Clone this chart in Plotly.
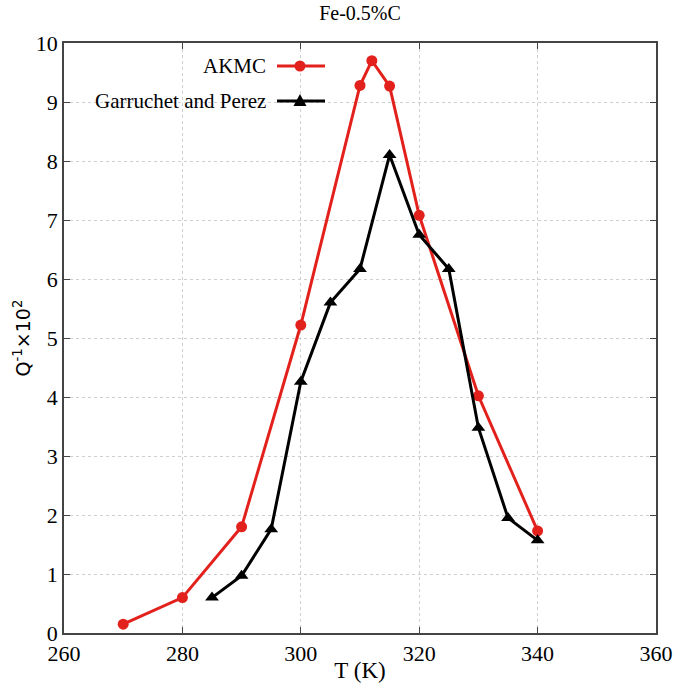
import plotly.graph_objects as go

akmc_T = [270, 280, 290, 300, 310, 312, 315, 320, 330, 340]
akmc_Q = [0.15, 0.60, 1.80, 5.22, 9.28, 9.70, 9.27, 7.08, 4.02, 1.73]

gp_T = [285, 290, 295, 300, 305, 310, 315, 320, 325, 330, 335, 340]
gp_Q = [0.60, 0.97, 1.76, 4.26, 5.60, 6.17, 8.10, 6.75, 6.17, 3.48, 1.95, 1.57]

x_ticks = [260, 280, 300, 320, 340, 360]
y_ticks = [0, 1, 2, 3, 4, 5, 6, 7, 8, 9, 10]

series_names = ["AKMC", "Garruchet and Perez"]

RED = "#e3211c"
BLACK = "#000000"
SERIF = "Liberation Serif, Times New Roman, serif"

fig = go.Figure()
fig.add_trace(go.Scatter(x=akmc_T, y=akmc_Q, mode="lines+markers", name=series_names[0],
                         line=dict(color=RED, width=3),
                         marker=dict(symbol="circle", size=11, color=RED),
                         cliponaxis=False))
fig.add_trace(go.Scatter(x=gp_T, y=gp_Q, mode="lines+markers", name=series_names[1],
                         line=dict(color=BLACK, width=3),
                         marker=dict(symbol="triangle-up", size=12, color=BLACK),
                         cliponaxis=False))

axis_common = dict(showline=True, linecolor="#444444", linewidth=1.6, mirror="ticks",
                   ticks="inside", ticklen=6, tickcolor="#444444", tickwidth=1,
                   showgrid=True, gridcolor="#cfcfcf", griddash="dot", gridwidth=1,
                   zeroline=False, automargin=False,
                   tickfont=dict(family=SERIF, size=22, color="#000"))

fig.update_layout(
    width=678, height=683,
    margin=dict(l=64, r=22, t=43, b=50),
    paper_bgcolor="white", plot_bgcolor="white",
    showlegend=False,
    font=dict(family=SERIF, color="#000"),
    title=dict(text="Fe-0.5%C", xref="paper", x=0.5, xanchor="center",
               yref="container", y=1 - 13 / 683, yanchor="middle",
               font=dict(family=SERIF, size=20, color="#000")),
    xaxis=dict(range=[260, 360], tickvals=x_ticks, ticktext=[str(v) for v in x_ticks],
               title=dict(text="T (K)", font=dict(family=SERIF, size=23, color="#000"), standoff=2),
               **axis_common),
    yaxis=dict(range=[0, 10], tickvals=y_ticks, ticktext=[str(v) for v in y_ticks],
               title=dict(text="Q<sup>-1</sup>×10<sup>2</sup>",
                          font=dict(family="DejaVu Sans, sans-serif", size=19, color="#000"),
                          standoff=0),
               **axis_common),
)

# Legend drawn as in the reference: text on the left, line sample on the right
leg_y = [0.961, 0.9017]
leg_col = [RED, BLACK]
leg_sym = ["circle", "triangle"]
x0, x1, xm = 0.3598, 0.4409, 0.3986
PW, PH = 592, 590
for name, col, sym, yy in zip(series_names, leg_col, leg_sym, leg_y):
    fig.add_annotation(xref="paper", yref="paper", x=0.345, y=yy, text=name, showarrow=False,
                       xanchor="right", yanchor="middle",
                       font=dict(family=SERIF, size=21, color="#000"))
    fig.add_shape(type="line", xref="paper", yref="paper", x0=x0, x1=x1, y0=yy, y1=yy,
                  line=dict(color=col, width=3))
    if sym == "circle":
        r = 5.5
        fig.add_shape(type="circle", xref="paper", yref="paper",
                      x0=xm - r / PW, x1=xm + r / PW, y0=yy - r / PH, y1=yy + r / PH,
                      fillcolor=col, line=dict(color=col, width=0))
    else:
        cx, cy = xm * PW, yy * PH
        pts = [(cx - 6.5, cy - 5), (cx + 6.5, cy - 5), (cx, cy + 7)]
        path = "M " + " L ".join(f"{px / PW:.5f},{py / PH:.5f}" for px, py in pts) + " Z"
        fig.add_shape(type="path", xref="paper", yref="paper", path=path,
                      fillcolor=col, line=dict(color=col, width=0))

fig.write_html("out.html", config={"displayModeBar": False},
               post_script="document.body.style.margin='0';document.body.style.overflow='hidden';")
